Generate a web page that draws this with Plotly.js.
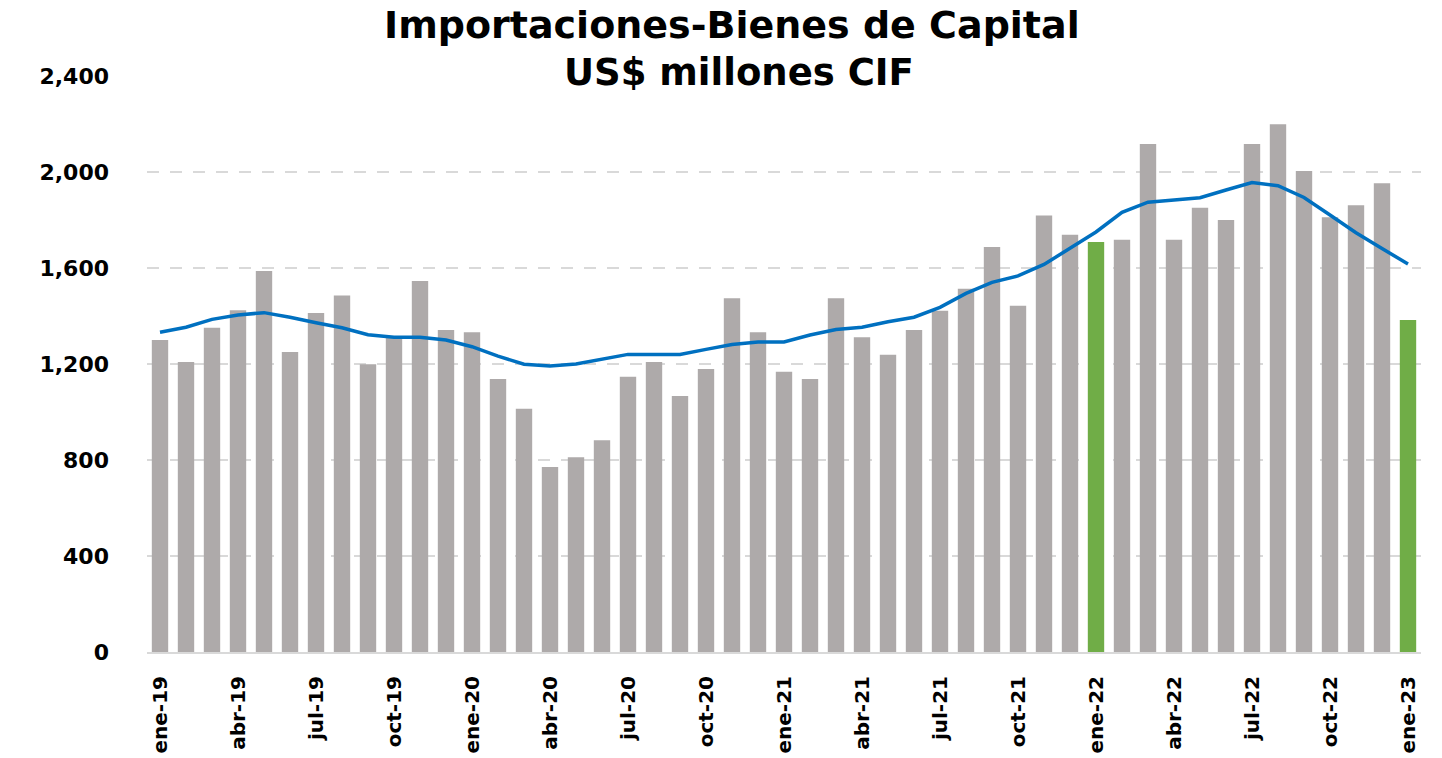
<!DOCTYPE html>
<html>
<head>
<meta charset="utf-8">
<script src="https://cdn.plot.ly/plotly-3.0.1.min.js"></script>
<style>html,body{margin:0;padding:0;background:#fff;}#chart{width:1442px;height:758px;}</style>
</head>
<body>
<div id="chart"></div>
<script>
const months = [
  "ene-19","feb-19","mar-19","abr-19","may-19","jun-19","jul-19","ago-19","sep-19","oct-19","nov-19","dic-19",
  "ene-20","feb-20","mar-20","abr-20","may-20","jun-20","jul-20","ago-20","sep-20","oct-20","nov-20","dic-20",
  "ene-21","feb-21","mar-21","abr-21","may-21","jun-21","jul-21","ago-21","sep-21","oct-21","nov-21","dic-21",
  "ene-22","feb-22","mar-22","abr-22","may-22","jun-22","jul-22","ago-22","sep-22","oct-22","nov-22","dic-22",
  "ene-23"
];
const imports = [
  1300,1208,1351,1424,1587,1250,1412,1485,1199,1310,1546,1342,
  1332,1137,1014,771,811,882,1147,1208,1067,1179,1474,1332,
  1168,1137,1474,1311,1239,1342,1422,1514,1687,1443,1819,1739,
  1708,1718,2117,1718,1851,1800,2117,2199,2004,1811,1861,1953,
  1383
];
const movingAvg = [
  1332,1353,1386,1404,1414,1395,1372,1351,1322,1311,1311,1300,
  1272,1233,1199,1192,1200,1219,1240,1240,1240,1261,1281,1292,
  1292,1321,1344,1353,1376,1395,1436,1494,1540,1567,1615,1682,
  1750,1832,1874,1883,1893,1925,1956,1943,1894,1821,1747,1681,
  1617
];
const highlighted = ["ene-22","ene-23"];
const tickLabels = ["ene-19","abr-19","jul-19","oct-19","ene-20","abr-20","jul-20","oct-20","ene-21","abr-21","jul-21","oct-21","ene-22","abr-22","jul-22","oct-22","ene-23"];
const yTicks = [0,400,800,1200,1600,2000,2400];
const titleLines = ["Importaciones-Bienes de Capital","US$ millones CIF"];

const barColors = months.map(m => highlighted.includes(m) ? "#70AD47" : "#AEAAAA");
const FONT = "DejaVu Sans, sans-serif";

const data = [
  {type:"bar", x:months, y:imports, marker:{color:barColors}, width:0.63, hoverinfo:"x+y", showlegend:false},
  {type:"scatter", mode:"lines", x:months, y:movingAvg, line:{color:"#0070C0", width:3.5}, hoverinfo:"x+y", showlegend:false}
];

const layout = {
  width:1442, height:758,
  margin:{l:147, r:21, t:76, b:106},
  paper_bgcolor:"#fff", plot_bgcolor:"#fff",
  font:{family:FONT, color:"#000"},
  xaxis:{
    type:"category", range:[-0.5, months.length-0.5],
    tickmode:"array", tickvals:tickLabels, ticktext:tickLabels,
    tickangle:-90, tickfont:{family:FONT, size:20, color:"#000", weight:"bold"},
    showgrid:false, showline:true, linecolor:"#D9D9D9", linewidth:2,
    ticks:"", ticklabelstandoff:14, fixedrange:true
  },
  yaxis:{
    range:[0,2400], tickmode:"array", tickvals:yTicks,
    tickformat:",d",
    tickfont:{family:FONT, size:22, color:"#000", weight:"bold"},
    showgrid:true, gridcolor:"#D9D9D9", gridwidth:2.5, griddash:"12px,11px",
    zeroline:false, showline:false, ticks:"", ticklabelstandoff:37, fixedrange:true
  },
  annotations:[
    {text:titleLines[0], xref:"paper", yref:"paper", x:0.459, y:(652-25)/576, xanchor:"center", yanchor:"middle",
     showarrow:false, font:{family:FONT, size:38, color:"#000", weight:"bold"}},
    {text:titleLines[1], xref:"paper", yref:"paper", x:0.465, y:(652-72)/576, xanchor:"center", yanchor:"middle",
     showarrow:false, bgcolor:"#fff", borderpad:2, font:{family:FONT, size:37, color:"#000", weight:"bold"}}
  ],
  bargap:0.37
};

Plotly.newPlot("chart", data, layout, {displayModeBar:false, staticPlot:true});
</script>
</body>
</html>
